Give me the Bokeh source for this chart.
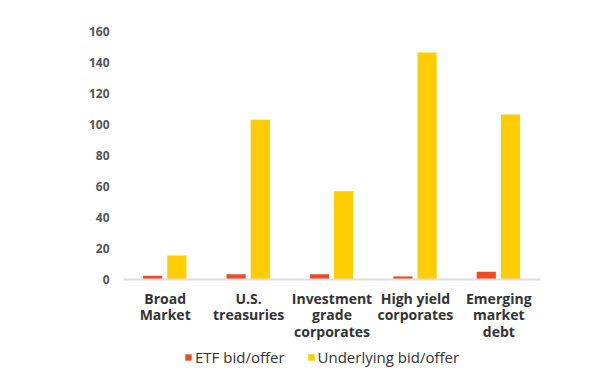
from bokeh.plotting import figure
from bokeh.models import ColumnDataSource, FactorRange, Range1d, Legend, LegendItem, FixedTicker
from bokeh.transform import dodge
from bokeh.embed import file_html
from bokeh.resources import INLINE

categories = ["Broad\nMarket", "U.S.\ntreasuries", "Investment\ngrade\ncorporates",
              "High yield\ncorporates", "Emerging\nmarket\ndebt"]
etf_bid_offer = [2.4, 3.4, 3.4, 2.0, 5.0]
underlying_bid_offer = [15.5, 103, 57, 146.5, 106.5]
y_ticks = [0, 20, 40, 60, 80, 100, 120, 140, 160]
series_names = ["ETF bid/offer", "Underlying bid/offer"]

FONT = "Open Sans"
ETF_COLOR = "#EE4A27"
UND_COLOR = "#FFCD00"

src = ColumnDataSource(dict(cat=categories, etf=etf_bid_offer, und=underlying_bid_offer))

# frame extends below zero so the category labels and legend sit inside it
p = figure(frame_width=417, frame_height=337, x_range=FactorRange(*categories),
           y_range=Range1d(-57.4, 160),
           output_backend="svg", toolbar_location=None,
           min_border_left=123, min_border_right=52, min_border_top=31, min_border_bottom=0)

r1 = p.vbar(x=dodge("cat", -0.15, range=p.x_range), top="etf", width=0.23, source=src,
            color=ETF_COLOR, line_color=None)
r2 = p.vbar(x=dodge("cat", 0.14, range=p.x_range), top="und", width=0.23, source=src,
            color=UND_COLOR, line_color=None)

p.outline_line_color = None
p.xgrid.grid_line_color = None
p.ygrid.grid_line_color = None
p.background_fill_color = "white"
p.border_fill_color = "white"

p.yaxis.ticker = FixedTicker(ticks=y_ticks)
p.yaxis.axis_line_color = None
p.yaxis.major_tick_line_color = None
p.yaxis.minor_tick_line_color = None
p.yaxis.major_label_text_font = FONT
p.yaxis.major_label_text_font_size = "12px"
p.yaxis.major_label_text_font_style = "bold"
p.yaxis.major_label_text_color = "#555555"
p.yaxis.major_label_standoff = 8

p.xaxis.fixed_location = 0
p.xaxis.axis_line_color = "#DDDDDD"
p.xaxis.axis_line_width = 2
p.xaxis.major_tick_line_color = None
p.xaxis.minor_tick_line_color = None
p.xaxis.major_label_text_font = FONT
p.xaxis.major_label_text_font_size = "14px"
p.xaxis.major_label_text_font_style = "bold"
p.xaxis.major_label_text_color = "#333333"
p.xaxis.major_label_text_line_height = 0.87
p.xaxis.major_label_standoff = 3
p.x_range.range_padding = 0
p.x_range.group_padding = 0

legend = Legend(items=[LegendItem(label=series_names[0], renderers=[r1]),
                       LegendItem(label=series_names[1], renderers=[r2])],
                orientation="horizontal", location=(61, 1),
                label_text_font=FONT, label_text_font_size="15px", label_text_color="#333333",
                glyph_width=8, glyph_height=8, spacing=22, padding=2, margin=0,
                label_standoff=3,
                border_line_color=None, background_fill_alpha=0)
p.add_layout(legend, "center")

open("out.html", "w").write(file_html(p, INLINE))
